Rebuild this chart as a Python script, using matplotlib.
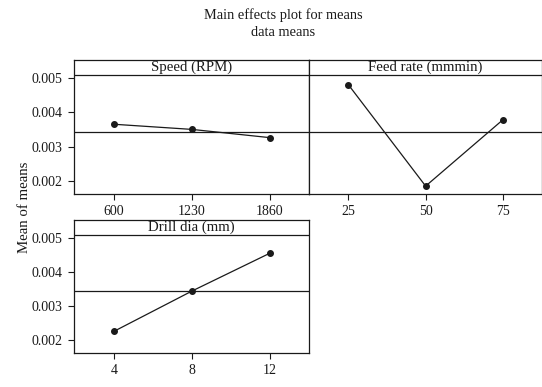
import matplotlib
matplotlib.use("Agg")
import matplotlib.pyplot as plt

# ----------------------------------------------------------------------
# Data (level means)
# ----------------------------------------------------------------------

speed_levels = ["600", "1230", "1860"]
speed_means = [0.00365, 0.00350, 0.00326]

feed_levels = ["25", "50", "75"]
feed_means = [0.00480, 0.00185, 0.00378]

drill_levels = ["4", "8", "12"]
drill_means = [0.00226, 0.00344, 0.00455]

grand_mean = 0.00343
y_ticks = [0.002, 0.003, 0.004, 0.005]

INK = "#1a1a1a"
YLIM = (0.00162, 0.00552)
HEADER_Y = 0.00507

plt.rcParams["font.family"] = ["Liberation Serif", "DejaVu Serif"]
plt.rcParams["font.size"] = 10

fig = plt.figure(figsize=(5.42, 3.87), dpi=100)


def panel(rect, title, levels, means, show_y):
    ax = fig.add_axes(rect)
    xs = list(range(1, len(levels) + 1))
    ax.plot(xs, means, color=INK, linewidth=0.9, marker="o", markersize=4,
            markerfacecolor=INK, markeredgecolor=INK, zorder=3)
    ax.axhline(grand_mean, color=INK, linewidth=0.9)
    ax.axhline(HEADER_Y, color=INK, linewidth=0.9)
    ax.text(0.5, (HEADER_Y + YLIM[1]) / 2, title, transform=ax.get_yaxis_transform(),
            ha="center", va="center", fontsize=10.7, color=INK)
    ax.set_xlim(0.49, len(levels) + 0.5)
    ax.set_ylim(*YLIM)
    ax.set_xticks(xs)
    ax.set_xticklabels(levels)
    ax.set_yticks(y_ticks)
    if show_y:
        ax.set_yticklabels([f"{v:.3f}" for v in y_ticks])
    else:
        ax.tick_params(axis="y", left=False, labelleft=False)
    ax.tick_params(direction="out", length=4, width=0.8, color=INK,
                   labelcolor=INK, labelsize=10, pad=4)
    for s in ax.spines.values():
        s.set_color(INK)
        s.set_linewidth(0.9)
    return ax


panel([0.1365, 0.4987, 0.4336, 0.3463], "Speed (RPM)", speed_levels, speed_means, True)
panel([0.5701, 0.4987, 0.4290, 0.3463], "Feed rate (mmmin)", feed_levels, feed_means, False)
panel([0.1365, 0.0871, 0.4336, 0.3444], "Drill dia (mm)", drill_levels, drill_means, True)

fig.text(0.522, 0.960, "Main effects plot for means", ha="center", va="center",
         fontsize=10.4, color=INK)
fig.text(0.522, 0.915, "data means", ha="center", va="center", fontsize=10.4, color=INK)
fig.text(0.045, 0.465, "Mean of means", rotation=90, ha="center", va="center",
         fontsize=10.7, color=INK)

fig.savefig("out.png", dpi=100)
